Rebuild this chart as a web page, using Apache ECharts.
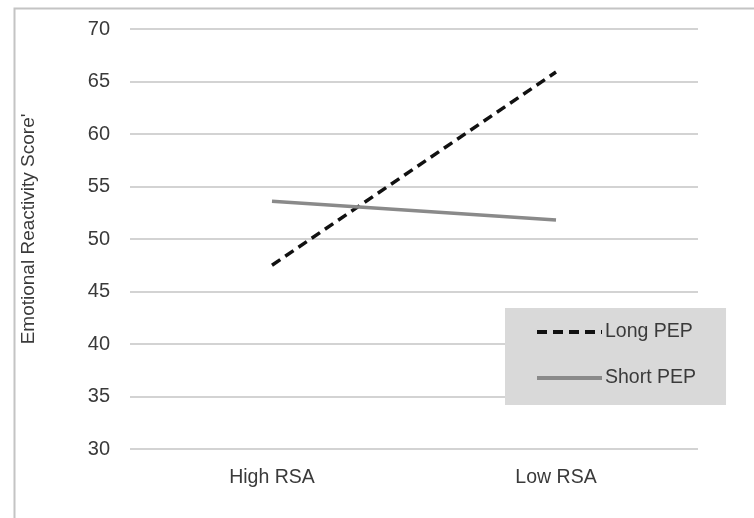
<!DOCTYPE html>
<html>
<head>
<meta charset="utf-8">
<script src="https://cdn.jsdelivr.net/npm/echarts@6/dist/echarts.min.js"></script>
<style>html,body{margin:0;padding:0;background:#fff}#c{width:754px;height:518px}</style>
</head>
<body>
<div id="c"></div>
<script>
var categories = ['High RSA', 'Low RSA'];
var longPEP = [47.5, 65.9];
var shortPEP = [53.6, 51.8];
var seriesNames = ['Long PEP', 'Short PEP'];
var yTitle = "Emotional Reactivity Score'";

var FONT = '"Liberation Sans", Arial, sans-serif';
var chart = echarts.init(document.getElementById('c'));
chart.setOption({
  animation: false,
  backgroundColor: '#fff',
  graphic: [{
    type: 'rect', left: 12, top: 6,
    shape: { width: 800, height: 600 },
    style: { fill: 'none', stroke: '#c4c4c4', lineWidth: 2 },
    z: -10
  }],
  grid: { left: 130, right: 56, top: 29, bottom: 69, containLabel: false },
  xAxis: {
    type: 'category',
    data: categories,
    boundaryGap: true,
    axisLine: { show: false },
    axisTick: { show: false },
    axisLabel: { color: '#3a3a3a', fontSize: 19.5, fontFamily: FONT, margin: 19 }
  },
  yAxis: {
    type: 'value',
    min: 30, max: 70, interval: 5,
    name: yTitle,
    nameLocation: 'middle',
    nameRotate: 90,
    nameGap: 92,
    nameTextStyle: { color: '#3a3a3a', fontSize: 19, fontFamily: FONT, padding: [0, 0, 0, 20] },
    axisLine: { show: false },
    axisTick: { show: false },
    axisLabel: { color: '#3a3a3a', fontSize: 20, fontFamily: FONT, margin: 20 },
    splitLine: { lineStyle: { color: '#c4c4c4', width: 1.5 } }
  },
  legend: {
    orient: 'vertical',
    left: 505, top: 308,
    backgroundColor: '#d9d9d9',
    padding: [14, 30, 17, 30],
    itemWidth: 65, itemHeight: 20, itemGap: 26,
    itemStyle: { opacity: 0 },
    lineStyle: { width: 4 },
    textStyle: { color: '#3a3a3a', fontSize: 19.5, fontFamily: FONT, padding: [0, 0, 0, -2] },
    data: seriesNames
  },
  series: [
    {
      name: seriesNames[0], type: 'line', data: longPEP,
      symbol: 'none',
      lineStyle: { color: '#111', width: 3.5, type: [10, 6] },
      itemStyle: { color: '#111' }
    },
    {
      name: seriesNames[1], type: 'line', data: shortPEP,
      symbol: 'none',
      lineStyle: { color: '#8a8a8a', width: 3.5 },
      itemStyle: { color: '#8a8a8a' }
    }
  ]
});
</script>
</body>
</html>
